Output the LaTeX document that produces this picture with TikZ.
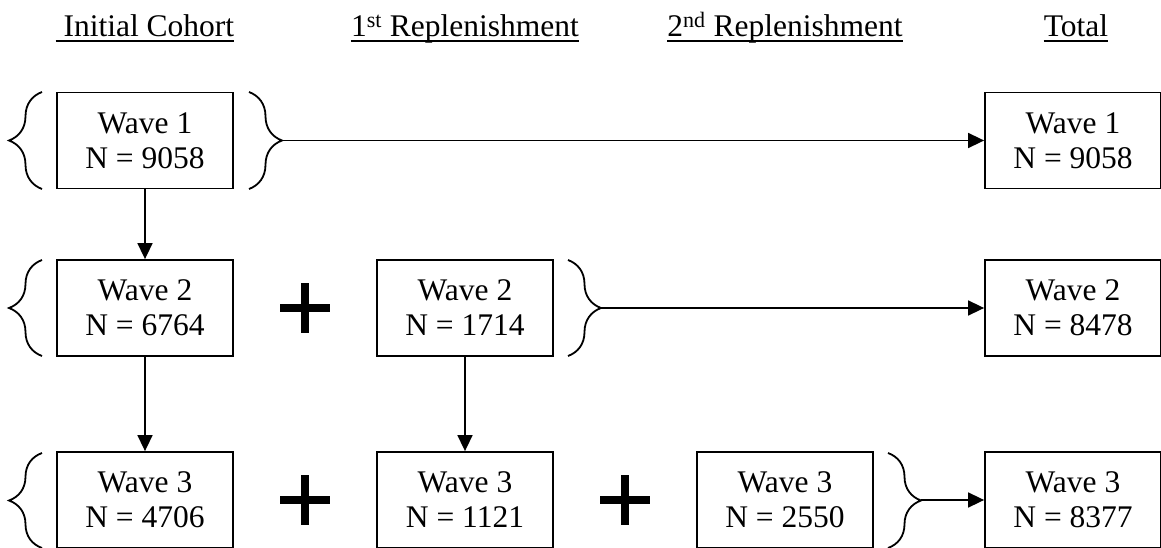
\documentclass[tikz,border=0pt]{standalone}
\usepackage{fontspec}
\setmainfont{Liberation Serif}
\usetikzlibrary{arrows.meta,decorations.pathreplacing}
\begin{document}
\begin{tikzpicture}[x=1pt,y=-1pt,
  wavebox/.style={draw,line width=1.8pt,minimum width=176pt,minimum height=96pt,
    inner sep=0pt,align=center,font=\fontsize{31.5}{35}\selectfont},
  header/.style={inner sep=0pt,anchor=base,font=\fontsize{31.5}{34}\selectfont},
  rule/.style={line width=2pt},
  flow/.style={line width=1.6pt,-{Triangle[length=16pt,width=15pt]}},
  curly/.style={line width=1.8pt,decorate,decoration={brace,amplitude=33pt}},
  plussign/.style={line width=8pt}]
\useasboundingbox (0,0) rectangle (1161,548);

% column headers, each with its own underline
\node[header] (h1) at (145,37) {\ Initial Cohort};
\node[header] (h2) at (465,37) {1\textsuperscript{st} Replenishment};
\node[header] (h3) at (785,37) {2\textsuperscript{nd} Replenishment};
\node[header] (h4) at (1076,37) {Total};
\foreach \h in {h1,h2,h3,h4}
  \draw[rule] ([yshift=-4pt]\h.base west) -- ([yshift=-4pt]\h.base east);

% wave boxes
\node[wavebox] (a1) at (145,140.5) {Wave 1\\N = 9058};
\node[wavebox] (a2) at (145,308) {Wave 2\\N = 6764};
\node[wavebox] (a3) at (145,500) {Wave 3\\N = 4706};
\node[wavebox] (b2) at (465,308) {Wave 2\\N = 1714};
\node[wavebox] (b3) at (465,500) {Wave 3\\N = 1121};
\node[wavebox] (c3) at (785,500) {Wave 3\\N = 2550};
\node[wavebox] (t1) at (1073,140.5) {Wave 1\\N = 9058};
\node[wavebox] (t2) at (1073,308) {Wave 2\\N = 8478};
\node[wavebox] (t3) at (1073,500) {Wave 3\\N = 8377};

% braces grouping each wave
\draw[curly] (42,189) -- (42,92);
\draw[curly] (249,92) -- (249,189);
\draw[curly] (42,356) -- (42,260);
\draw[curly] (568,260) -- (568,356);
\draw[curly] (42,548) -- (42,453);
\draw[curly] (888,453) -- (888,548);

% brace tips
\coordinate (r1) at (282,140.5);
\coordinate (r2) at (601,308);
\coordinate (r3) at (921,500);

% plus signs
\draw[plussign] (280,308) -- (330,308) (305,283) -- (305,333);
\draw[plussign] (280,500) -- (330,500) (305,475) -- (305,525);
\draw[plussign] (600,500) -- (650,500) (625,475) -- (625,525);

% connectors
\draw[flow] (a1) -- (a2);
\draw[flow] (a2) -- (a3);
\draw[flow] (b2) -- (b3);
\draw[flow] (r1) -- (t1);
\draw[flow] (r2) -- (t2);
\draw[flow] (r3) -- (t3);
\end{tikzpicture}
\end{document}
